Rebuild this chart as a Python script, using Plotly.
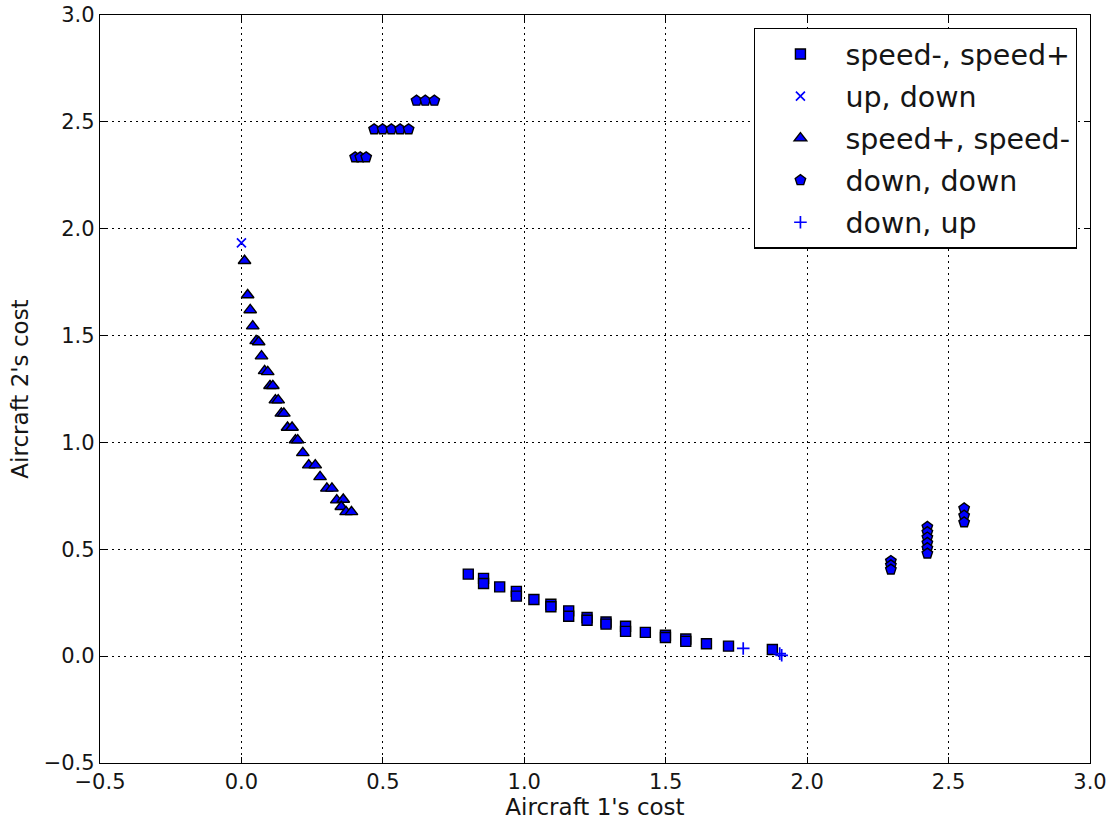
import plotly.graph_objects as go

# speed-, speed+ (squares)
sq_x = [0.802, 0.856, 0.856, 0.913, 0.972, 0.972, 1.034, 1.094, 1.094, 1.157, 1.157,
        1.222, 1.222, 1.289, 1.289, 1.358, 1.358, 1.428, 1.499, 1.499, 1.571, 1.571,
        1.644, 1.722, 1.877]
sq_y = [0.384, 0.364, 0.340, 0.324, 0.303, 0.281, 0.265, 0.243, 0.231, 0.212, 0.187,
        0.181, 0.168, 0.160, 0.150, 0.140, 0.116, 0.111, 0.098, 0.087, 0.080, 0.069,
        0.058, 0.047, 0.031]

# up, down (x)
ud_x = [0.0]
ud_y = [1.934]

# speed+, speed- (triangles)
tr_x = [0.011, 0.022, 0.031, 0.040, 0.052, 0.061, 0.071, 0.082, 0.093, 0.101, 0.111,
        0.120, 0.130, 0.141, 0.150, 0.163, 0.179, 0.191, 0.199, 0.217, 0.238, 0.261,
        0.278, 0.302, 0.320, 0.337, 0.360, 0.353, 0.370, 0.389]
tr_y = [1.850, 1.690, 1.620, 1.544, 1.475, 1.470, 1.404, 1.335, 1.330, 1.265, 1.265,
        1.198, 1.198, 1.136, 1.136, 1.070, 1.070, 1.011, 1.011, 0.951, 0.894, 0.894,
        0.839, 0.785, 0.785, 0.730, 0.733, 0.699, 0.675, 0.675]

# down, down (pentagons)
dd_x = [0.402, 0.420, 0.441, 0.469, 0.499, 0.530, 0.561, 0.591, 0.619, 0.650, 0.682,
        2.296, 2.296, 2.296,
        2.425, 2.425, 2.425, 2.425, 2.425, 2.425,
        2.555, 2.555, 2.555]
dd_y = [2.334, 2.334, 2.334, 2.465, 2.465, 2.465, 2.465, 2.465, 2.599, 2.599, 2.599,
        0.445, 0.425, 0.405,
        0.605, 0.580, 0.555, 0.530, 0.505, 0.480,
        0.691, 0.657, 0.626]

# down, up (plus)
du_x = [1.774, 1.903, 1.910]
du_y = [0.036, 0.012, 0.004]

BLUE = "#0000ff"
TXT = "#151515"
fig = go.Figure()
edge = dict(color="black", width=1.4)
fig.add_trace(go.Scatter(x=sq_x, y=sq_y, mode="markers", name="speed-, speed+",
                         legendgroup="a",
                         marker=dict(symbol="square", size=10, color=BLUE, line=edge)))
fig.add_trace(go.Scatter(x=ud_x, y=ud_y, mode="markers", name="up, down",
                         legendgroup="b",
                         marker=dict(symbol="x-thin", size=9, color=BLUE,
                                     line=dict(color=BLUE, width=1.7))))
fig.add_trace(go.Scatter(x=tr_x, y=tr_y, mode="markers", name="speed+, speed-",
                         legendgroup="c",
                         marker=dict(symbol="triangle-up", size=11, color=BLUE, line=edge)))
fig.add_trace(go.Scatter(x=dd_x, y=dd_y, mode="markers", name="down, down",
                         legendgroup="d",
                         marker=dict(symbol="pentagon", size=11, color=BLUE, line=edge)))
fig.add_trace(go.Scatter(x=du_x, y=du_y, mode="markers", name="down, up",
                         legendgroup="e",
                         marker=dict(symbol="cross-thin", size=9, color=BLUE,
                                     line=dict(color=BLUE, width=1.7))))

axis_common = dict(
    showline=True, linecolor="black", linewidth=1.3, mirror="allticks",
    ticks="inside", ticklen=6, tickcolor="black", tickwidth=1,
    showgrid=True, gridcolor="black", griddash="2px,4px", gridwidth=1,
    zeroline=False, tickfont=dict(size=21, color=TXT),
    tickformat=".1f", automargin=False,
)
fig.update_xaxes(range=[-0.5, 3.0], dtick=0.5, tick0=-0.5,
                 title=dict(text="Aircraft 1's cost", font=dict(size=23, color=TXT),
                            standoff=1),
                 **axis_common)
fig.update_yaxes(range=[-0.5, 3.0], dtick=0.5, tick0=-0.5,
                 title=dict(text="Aircraft 2's cost", font=dict(size=23, color=TXT),
                            standoff=8),
                 **axis_common)

fig.update_layout(
    width=1119, height=824,
    margin=dict(l=100, r=29, t=15, b=61, autoexpand=False),
    plot_bgcolor="white", paper_bgcolor="white",
    font=dict(family="DejaVu Sans", color=TXT),
    legend=dict(x=0.987, y=0.983, xanchor="right", yanchor="top",
                bgcolor="white", bordercolor="black", borderwidth=1.3,
                font=dict(size=28.5, color=TXT),
                itemwidth=80, tracegroupgap=2),
    showlegend=True,
)

fig.write_html("out.html", config={"displayModeBar": False},
               post_script="document.body.style.margin='0';document.body.style.overflow='hidden';")
